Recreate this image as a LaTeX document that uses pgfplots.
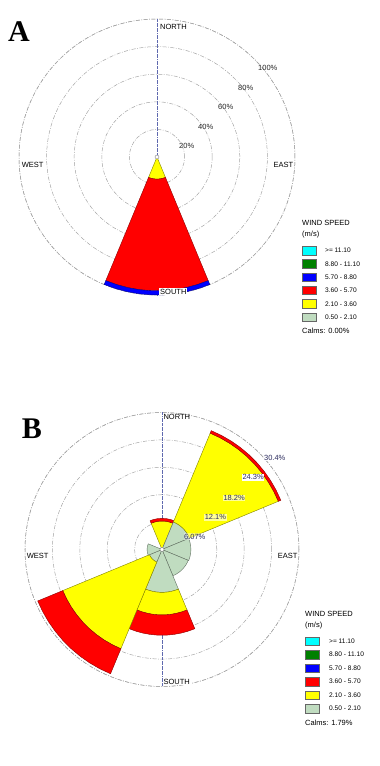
\documentclass[border=0pt]{standalone}
\usepackage{pgfplots}
\pgfplotsset{compat=1.18}
\usepackage{pgfplotstable}
\usepgfplotslibrary{polar}
\usepackage{fontspec}
\setmainfont{Liberation Sans}
\newfontfamily\letterfont{Liberation Serif}

\definecolor{wcyan}{RGB}{0,255,255}
\definecolor{wdgreen}{RGB}{0,128,0}
\definecolor{wblue}{RGB}{0,0,255}
\definecolor{wred}{RGB}{255,0,0}
\definecolor{wyellow}{RGB}{255,255,0}
\definecolor{wlgreen}{RGB}{192,220,192}
\definecolor{ringgray}{RGB}{165,165,165}
\definecolor{nsline}{RGB}{95,105,175}
\definecolor{pctB}{RGB}{45,45,95}

% frequency (%) of each speed class per direction (bearing, deg)
% c1: 0.50-2.10, c2: 2.10-3.60, c3: 3.60-5.70, c4: 5.70-8.80
\pgfplotstableread{
dir  c1   c2    c3    c4
0    0    0     0     0
45   0    0     0     0
90   0    0     0     0
135  0    0     0     0
180  0    16.0  81.0  3.0
225  0    0     0     0
270  0    0     0     0
315  0    0     0     0
}\roseA

\pgfplotstableread{
dir  c1   c2    c3    c4
0    0    6.3   0.6   0
45   6.6  21.3  0.6   0
90   6.4  0     0     0
135  6.3  0     0     0
180  9.5  5.0   4.5   0
225  3.0  20.8  6.0   0
270  3.3  0     0     0
315  0    0     0     0
}\roseB

% one annular wedge of a 45-degree sector: #1 bearing, #2 inner r, #3 outer r, #4 fill, #5 edge
\newcommand\rosewedge[5]{%
  \pgfmathsetmacro\wca{90-#1}%
  \gdef\pts{}%
  \pgfplotsforeachungrouped \k in {0,1,2,3,4,5,6,7,8,9}{\pgfmathsetmacro\wa{\wca-22.5+5*\k}\xdef\pts{\pts(\wa,#3)}}%
  \pgfplotsforeachungrouped \k in {9,8,7,6,5,4,3,2,1,0}{\pgfmathsetmacro\wa{\wca-22.5+5*\k}\xdef\pts{\pts(\wa,#2)}}%
  \edef\tmp{\noexpand\addplot[fill=#4,draw=#5,line width=0.4pt,mark=none] coordinates {\pts} -- cycle;}%
  \tmp}

\newcommand\drawrose[1]{%
  \pgfplotsforeachungrouped \row in {0,1,2,3,4,5,6,7}{%
    \pgfplotstablegetelem{\row}{dir}\of#1\let\wdir\pgfplotsretval
    \pgfplotstablegetelem{\row}{c1}\of#1\let\wone\pgfplotsretval
    \pgfplotstablegetelem{\row}{c2}\of#1\let\wtwo\pgfplotsretval
    \pgfplotstablegetelem{\row}{c3}\of#1\let\wthree\pgfplotsretval
    \pgfplotstablegetelem{\row}{c4}\of#1\let\wfour\pgfplotsretval
    \pgfmathsetmacro\sa{\wone}%
    \pgfmathsetmacro\sb{\sa+\wtwo}%
    \pgfmathsetmacro\sc{\sb+\wthree}%
    \pgfmathsetmacro\sd{\sc+\wfour}%
    \ifdim\wone pt>0pt \rosewedge{\wdir}{0}{\sa}{wlgreen}{wlgreen!50!black}\fi
    \ifdim\wtwo pt>0pt \rosewedge{\wdir}{\sa}{\sb}{wyellow}{wyellow!50!black}\fi
    \ifdim\wthree pt>0pt \rosewedge{\wdir}{\sb}{\sc}{wred}{wred!55!black}\fi
    \ifdim\wfour pt>0pt \rosewedge{\wdir}{\sc}{\sd}{wblue}{wblue!55!black}\fi
  }}

\pgfplotsset{
  rosestyle/.style={
    anchor=center, scale only axis, clip=false,
    ymin=0, xtick=\empty, yticklabel=\empty, major tick length=0pt,
    ymajorgrids,
    y grid style={ringgray, line width=0.5pt, dash pattern=on 4pt off 1.5pt on 0.8pt off 1.5pt},
    separate axis lines,
    x axis line style={ringgray, line width=0.5pt, dash pattern=on 4pt off 1.5pt on 0.8pt off 1.5pt},
    y axis line style={draw=none},
    every axis plot/.append style={mark=none},
  }
}

\newcommand\windlegend[5]{% #1 box x, #2 text x, #3 first row centre y, #4 step, #5 calms text
  \node[anchor=base west, inner sep=0] at (#1,#3+24.7) {WIND SPEED};
  \node[anchor=base west, inner sep=0] at (#1,#3+13.5) {(m/s)};
  \foreach \c/\t [count=\i from 0] in {wcyan/{>= 11.10}, wdgreen/{8.80 - 11.10}, wblue/{5.70 - 8.80}, wred/{3.60 - 5.70}, wyellow/{2.10 - 3.60}, wlgreen/{0.50 - 2.10}}{
    \filldraw[fill=\c, draw=black!60, line width=0.4pt] (#1,#3-\i*#4-4.25) rectangle (#1+14.5,#3-\i*#4+4.25);
    \node[anchor=base west, inner sep=0, font=\fontsize{6.6}{8}\selectfont] at (#2,#3-\i*#4-2.4) {\t};
  }
  \node[anchor=base west, inner sep=0] at (#1,#3-5*#4-17) {#5};
}

\begin{document}
\begin{tikzpicture}[x=1pt,y=1pt]
\path[use as bounding box] (0,0) rectangle (380,766);

% ---------------- Panel A ----------------
\begin{polaraxis}[rosestyle, at={(157pt,609pt)}, width=276pt, height=276pt,
  ymax=100, ytick={20,40,60,80,100}]
  \addplot[nsline, line width=0.5pt, dash pattern=on 3pt off 0.8pt on 0.6pt off 0.8pt] coordinates {(90,100) (270,100)};
  \drawrose{\roseA}
  \addplot[only marks, mark=*, mark size=2pt, mark options={fill=white, draw=gray, line width=0.4pt}] coordinates {(0,0)};
\end{polaraxis}

\begin{scope}[font=\fontsize{7.5}{9}\selectfont]
\node[anchor=base west, inner sep=0] at (160,736.7) {NORTH};
\node[anchor=base west, inner sep=0.8pt, fill=white] at (159.2,471.7) {SOUTH};
\node[anchor=base west, inner sep=0] at (21.7,598) {WEST};
\node[anchor=base east, inner sep=0] at (293.3,598) {EAST};
\begin{scope}[black!85]
\node[anchor=base west, inner sep=0] at (179,617.7) {20\%};
\node[anchor=base west, inner sep=0] at (198,636.7) {40\%};
\node[anchor=base west, inner sep=0] at (218,656) {60\%};
\node[anchor=base west, inner sep=0] at (238,675.3) {80\%};
\node[anchor=base west, inner sep=0] at (258,695) {100\%};
\end{scope}
\windlegend{302}{325}{515.5}{13.3}{Calms: 0.00\%}
\end{scope}
\node[anchor=base west, inner sep=0, font=\letterfont\bfseries\fontsize{30}{30}\selectfont] at (8,724.3) {A};

% ---------------- Panel B ----------------
\begin{polaraxis}[rosestyle, at={(162pt,216.5pt)}, width=274pt, height=274pt,
  ymax=30.35, ytick={6.07,12.14,18.21,24.28,30.35}]
  \addplot[nsline, line width=0.5pt, dash pattern=on 3pt off 0.8pt on 0.6pt off 0.8pt] coordinates {(90,30.35) (270,30.35)};
  \drawrose{\roseB}
  \addplot[only marks, mark=*, mark size=2pt, mark options={fill=white, draw=gray, line width=0.4pt}] coordinates {(0,0)};
\end{polaraxis}

\begin{scope}[font=\fontsize{7.5}{9}\selectfont]
\node[anchor=base west, inner sep=0] at (163.3,346) {NORTH};
\node[anchor=base west, inner sep=0.8pt, fill=white] at (162.5,81.7) {SOUTH};
\node[anchor=base west, inner sep=0] at (26.7,207.7) {WEST};
\node[anchor=base east, inner sep=0] at (297.7,207.7) {EAST};
\begin{scope}[pctB]
\node[anchor=base west, inner sep=0.6pt, fill=white] at (263.3,305.3) {30.4\%};
\node[anchor=base west, inner sep=0.6pt, fill=white] at (241.7,286) {24.3\%};
\node[anchor=base west, inner sep=0.6pt, fill=white, fill opacity=0.6, text opacity=1] at (222.7,265.3) {18.2\%};
\node[anchor=base west, inner sep=0.6pt, fill=white, fill opacity=0.6, text opacity=1] at (204,246) {12.1\%};
\node[anchor=base west, inner sep=0.6pt, fill=white, fill opacity=0.4, text opacity=1] at (183.3,226.7) {6.07\%};
\end{scope}
\windlegend{305}{329}{125}{13.5}{Calms: 1.79\%}
\end{scope}
\node[anchor=base west, inner sep=0, font=\letterfont\bfseries\fontsize{30}{30}\selectfont] at (21.7,327.7) {B};

\end{tikzpicture}
\end{document}
